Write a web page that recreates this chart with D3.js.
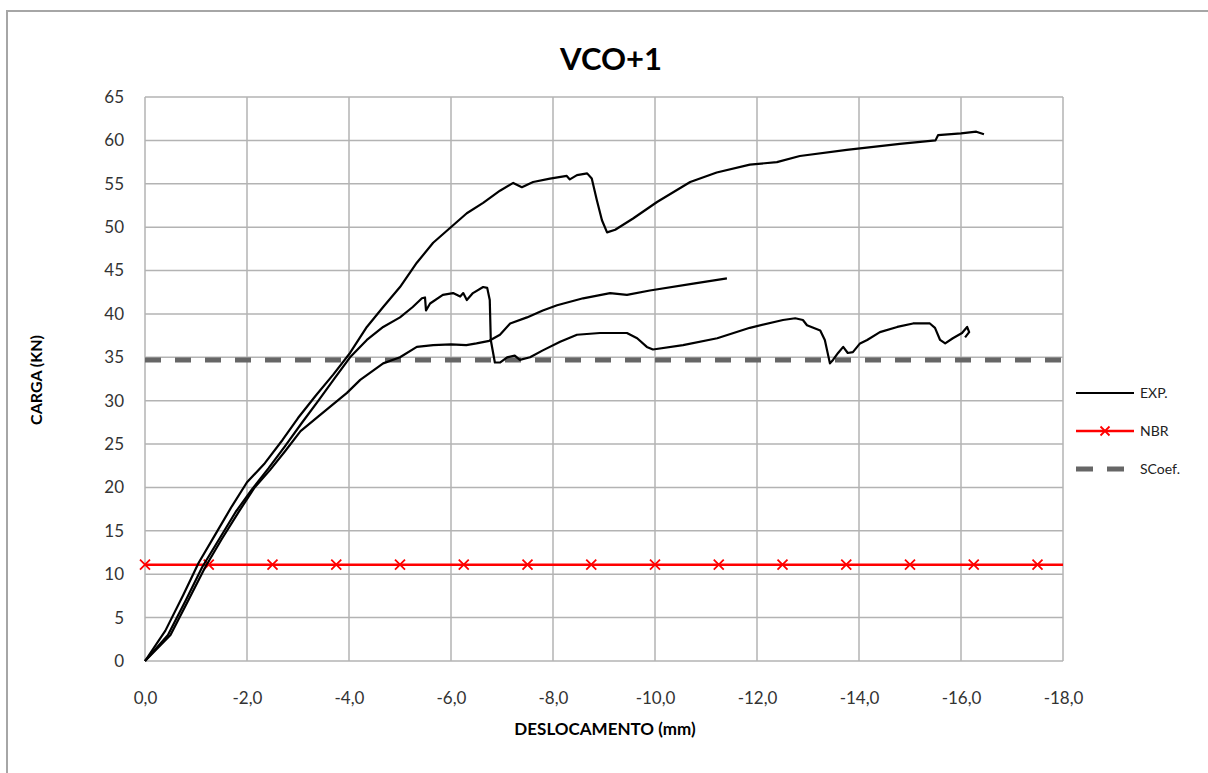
<!DOCTYPE html>
<html>
<head>
    <meta charset="utf-8">
    <title>VCO+1</title>
    <script src="https://cdn.jsdelivr.net/npm/d3@7"></script>
    <style>
        body { margin: 0; background: #fff; }
        text { font-family: Lato, "Open Sans", sans-serif; }
    </style>
</head>
<body>
<svg id="chart" width="1208" height="773"></svg>
<script>
// data
var xTicks = [0, -2, -4, -6, -8, -10, -12, -14, -16, -18];
var yTicks = [0, 5, 10, 15, 20, 25, 30, 35, 40, 45, 50, 55, 60, 65];

// top EXP curve (reaches ~61 kN)
var expA = [[0, 0], [-0.4, 3.5], [-0.75, 7.6], [-1.05, 11.3], [-1.4, 14.8], [-1.7, 17.8], [-2.0, 20.6],
    [-2.35, 22.8], [-2.7, 25.5], [-3.0, 28.0], [-3.35, 30.6], [-3.69, 33.0], [-4.02, 35.5], [-4.35, 38.5],
    [-4.67, 40.8], [-5.0, 43.1], [-5.33, 45.9], [-5.65, 48.2], [-5.98, 49.9], [-6.31, 51.6], [-6.63, 52.8],
    [-6.96, 54.2], [-7.22, 55.1], [-7.39, 54.6], [-7.61, 55.2], [-7.94, 55.6], [-8.27, 55.9], [-8.33, 55.5],
    [-8.47, 56.0], [-8.67, 56.2], [-8.76, 55.6], [-8.86, 53.1], [-8.96, 50.8], [-9.06, 49.4], [-9.22, 49.7],
    [-9.57, 51.0], [-10.04, 52.9], [-10.69, 55.2], [-11.21, 56.3], [-11.86, 57.2], [-12.39, 57.5],
    [-12.84, 58.2], [-13.76, 58.9], [-14.8, 59.6], [-15.5, 60.0], [-15.55, 60.6], [-16.0, 60.8],
    [-16.3, 61.0], [-16.45, 60.7]];

// middle EXP curve (peak ~43 kN, then drops and runs near 35-39 kN)
var expB = [[0, 0], [-0.45, 3.0], [-0.8, 7.0], [-1.12, 10.8], [-1.45, 14.0], [-1.78, 17.2], [-2.1, 19.8],
    [-2.42, 22.2], [-2.75, 24.8], [-3.07, 27.4], [-3.4, 30.0], [-3.72, 32.6], [-4.02, 35.0], [-4.35, 37.0],
    [-4.67, 38.5], [-5.0, 39.6], [-5.25, 40.8], [-5.43, 41.8], [-5.49, 41.9], [-5.51, 40.4], [-5.59, 41.2],
    [-5.84, 42.2], [-6.04, 42.4], [-6.18, 42.0], [-6.24, 42.4], [-6.31, 41.6], [-6.43, 42.4], [-6.63, 43.1],
    [-6.71, 43.0], [-6.76, 41.6], [-6.78, 37.0], [-6.86, 34.4], [-6.96, 34.4], [-7.1, 35.0], [-7.25, 35.2],
    [-7.35, 34.7], [-7.55, 35.0], [-7.8, 35.8], [-8.14, 36.8], [-8.47, 37.6], [-8.92, 37.8], [-9.45, 37.8],
    [-9.65, 37.2], [-9.84, 36.2], [-9.96, 35.9], [-10.55, 36.4], [-11.22, 37.2], [-11.86, 38.4],
    [-12.51, 39.3], [-12.75, 39.5], [-12.9, 39.3], [-12.98, 38.7], [-13.24, 38.1], [-13.33, 37.0],
    [-13.43, 34.3], [-13.49, 34.7], [-13.59, 35.5], [-13.69, 36.2], [-13.78, 35.5], [-13.88, 35.6],
    [-14.02, 36.6], [-14.16, 37.0], [-14.41, 37.9], [-14.75, 38.5], [-15.06, 38.9], [-15.39, 38.9],
    [-15.49, 38.4], [-15.59, 37.0], [-15.69, 36.6], [-15.84, 37.2], [-16.02, 37.8], [-16.12, 38.5],
    [-16.16, 37.9], [-16.08, 37.3]];

// lower EXP curve (runs at ~36.5 kN, then climbs to ~44 kN)
var expC = [[0, 0], [-0.5, 3.0], [-0.85, 7.0], [-1.18, 10.8], [-1.5, 14.0], [-1.85, 17.3], [-2.15, 20.0],
    [-2.45, 22.0], [-2.75, 24.2], [-3.05, 26.5], [-3.4, 28.2], [-3.96, 30.9], [-4.22, 32.4], [-4.67, 34.3],
    [-5.0, 35.0], [-5.33, 36.2], [-5.65, 36.4], [-6.0, 36.5], [-6.3, 36.4], [-6.5, 36.6], [-6.75, 36.9],
    [-6.96, 37.6], [-7.16, 38.9], [-7.49, 39.6], [-7.8, 40.4], [-8.08, 41.0], [-8.59, 41.8], [-9.12, 42.4],
    [-9.45, 42.2], [-9.9, 42.7], [-10.75, 43.5], [-11.41, 44.1]];

var nbrLoad = 11.1;
var nbrX = [0, -1.25, -2.5, -3.75, -5, -6.25, -7.5, -8.75, -10, -11.25, -12.5, -13.75, -15, -16.25, -17.5];
var scoefLoad = 34.7;

var svg = d3.select("#chart");

// outer frame
svg.append("rect")
    .attr("x", 7).attr("y", 11)
    .attr("width", 1220).attr("height", 800)
    .attr("fill", "none")
    .attr("stroke", "#a6a6a6")
    .attr("stroke-width", 2);

var margin = {left: 145, top: 97, right: 1063, bottom: 661};

var x = d3.scaleLinear().domain([0, -18]).range([margin.left, margin.right]);
var y = d3.scaleLinear().domain([0, 65]).range([margin.bottom, margin.top]);

// grid
svg.append("g").selectAll("line")
    .data(yTicks)
    .enter().append("line")
    .attr("x1", margin.left).attr("x2", margin.right)
    .attr("y1", function(d) { return y(d); })
    .attr("y2", function(d) { return y(d); })
    .attr("stroke", "#b3b3b3")
    .attr("stroke-width", 1.5);

svg.append("g").selectAll("line")
    .data(xTicks)
    .enter().append("line")
    .attr("x1", function(d) { return x(d); })
    .attr("x2", function(d) { return x(d); })
    .attr("y1", margin.top).attr("y2", margin.bottom)
    .attr("stroke", "#b3b3b3")
    .attr("stroke-width", 1.5);

// axes (labels only, Excel style)
var xAxis = svg.append("g")
    .attr("transform", "translate(0," + (margin.bottom + 28) + ")")
    .call(d3.axisBottom(x).tickValues(xTicks).tickSize(0)
        .tickFormat(function(d) { return d3.format(".1f")(d).replace(".", ",").replace("−", "-"); }));
xAxis.select(".domain").remove();
xAxis.selectAll("text")
    .attr("font-size", 17)
    .attr("fill", "#333")
    .style("font-family", "Lato, 'Open Sans', sans-serif");

var yAxis = svg.append("g")
    .attr("transform", "translate(" + (margin.left - 18) + ",0)")
    .call(d3.axisLeft(y).tickValues(yTicks).tickSize(0));
yAxis.select(".domain").remove();
yAxis.selectAll("text")
    .attr("font-size", 17)
    .attr("fill", "#333")
    .style("font-family", "Lato, 'Open Sans', sans-serif");

// SCoef dashed line
svg.append("line")
    .attr("x1", x(0)).attr("x2", x(-18))
    .attr("y1", y(scoefLoad)).attr("y2", y(scoefLoad))
    .attr("stroke", "#666")
    .attr("stroke-width", 5)
    .attr("stroke-dasharray", "16,14");

// NBR line with x markers
svg.append("line")
    .attr("x1", x(0)).attr("x2", x(-18))
    .attr("y1", y(nbrLoad)).attr("y2", y(nbrLoad))
    .attr("stroke", "#ff0000")
    .attr("stroke-width", 2.5);

function cross(g, cx, cy, r) {
    g.append("path")
        .attr("d", "M" + (cx - r) + "," + (cy - r) + "L" + (cx + r) + "," + (cy + r) +
            "M" + (cx - r) + "," + (cy + r) + "L" + (cx + r) + "," + (cy - r))
        .attr("stroke", "#ff0000")
        .attr("stroke-width", 1.8)
        .attr("fill", "none");
}
var marks = svg.append("g");
nbrX.forEach(function(d) { cross(marks, x(d), y(nbrLoad), 5); });

// EXP curves
var line = d3.line()
    .x(function(d) { return x(d[0]); })
    .y(function(d) { return y(d[1]); });

svg.append("g").selectAll("path")
    .data([expA, expB, expC])
    .enter().append("path")
    .attr("d", line)
    .attr("fill", "none")
    .attr("stroke", "#000")
    .attr("stroke-width", 2.2)
    .attr("stroke-linejoin", "round");

// title and axis titles
svg.append("text")
    .attr("x", 611).attr("y", 70)
    .attr("text-anchor", "middle")
    .attr("font-size", 31)
    .attr("font-weight", "bold")
    .text("VCO+1");

svg.append("text")
    .attr("x", 605).attr("y", 735)
    .attr("text-anchor", "middle")
    .attr("font-size", 17)
    .attr("font-weight", "bold")
    .text("DESLOCAMENTO (mm)");

svg.append("text")
    .attr("transform", "translate(42,380) rotate(-90)")
    .attr("text-anchor", "middle")
    .attr("font-size", 16)
    .attr("font-weight", "bold")
    .text("CARGA (KN)");

// legend
var legend = svg.append("g");
var lx1 = 1076, lx2 = 1134, tx = 1140;
legend.append("line").attr("x1", lx1).attr("x2", lx2).attr("y1", 393).attr("y2", 393)
    .attr("stroke", "#000").attr("stroke-width", 2);
legend.append("line").attr("x1", lx1).attr("x2", lx2).attr("y1", 431).attr("y2", 431)
    .attr("stroke", "#ff0000").attr("stroke-width", 2.5);
cross(legend, (lx1 + lx2) / 2, 431, 4.5);
legend.append("line").attr("x1", lx1).attr("x2", lx2).attr("y1", 469).attr("y2", 469)
    .attr("stroke", "#666").attr("stroke-width", 5).attr("stroke-dasharray", "17,14");
["EXP.", "NBR", "SCoef."].forEach(function(t, i) {
    legend.append("text")
        .attr("x", tx).attr("y", 393 + i * 38)
        .attr("dy", "0.35em")
        .attr("font-size", 14)
        .attr("fill", "#222")
        .text(t);
});
</script>
</body>
</html>
